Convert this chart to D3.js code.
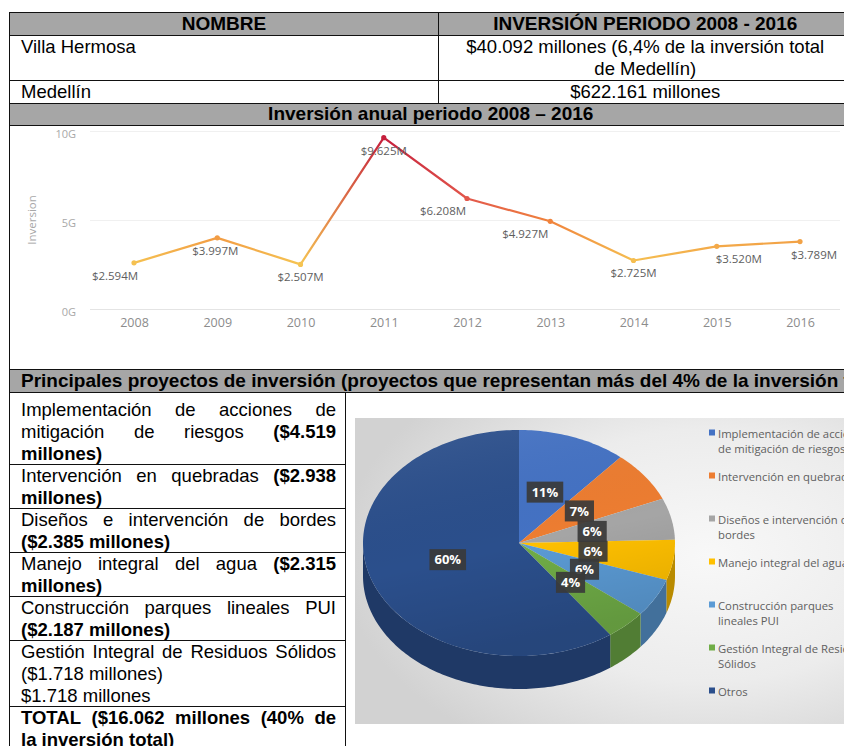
<!DOCTYPE html>
<html lang="es">
<head>
<meta charset="UTF-8">
<title>Inversión Villa Hermosa 2008 - 2016</title>
<style>
  body { margin: 0; background: #fff; }
  svg { display: block; }
</style>
</head>
<body>
<svg width="844" height="746"></svg>
<script src="https://cdn.jsdelivr.net/npm/d3@7"></script>
<script>
// ---------- data ----------
var years = ["2008", "2009", "2010", "2011", "2012", "2013", "2014", "2015", "2016"];
var annualInv = [2594, 3997, 2507, 9625, 6208, 4927, 2725, 3520, 3789]; // millones
var yTicks = [0, 5000, 10000];

var totalVH = 40092;     // Villa Hermosa, millones
var totalMed = 622161;   // Medellín, millones

var projNames = [
  "Implementación de acciones de mitigación de riesgos",
  "Intervención en quebradas",
  "Diseños e intervención de bordes",
  "Manejo integral del agua",
  "Construcción parques lineales PUI",
  "Gestión Integral de Residuos Sólidos"
];
var projValues = [4519, 2938, 2385, 2315, 2187, 1718];
var projBold = [true, true, true, true, true, false];
var projExtra = [null, null, null, null, null, "$1.718 millones"];

var pieValues = [4519, 2938, 2385, 2315, 2187, 1718, 24030];
var pieLabels = ["11%", "7%", "6%", "6%", "6%", "4%", "60%"];
var pieColors = ["#4472c4", "#ed7d31", "#a5a5a5", "#ffc000", "#5b9bd5", "#70ad47", "#2b4f8c"];
var legendLines = [
  ["Implementación de acciones", "de mitigación de riesgos"],
  ["Intervención en quebradas"],
  ["Diseños e intervención de", "bordes"],
  ["Manejo integral del agua"],
  ["Construcción parques", "lineales PUI"],
  ["Gestión Integral de Residuos", "Sólidos"],
  ["Otros"]
];

// label nudges for the line chart (layout only)
var labelDx = [-19, -2, 0, 0, -24, -25, 0, 22, 14];

// ---------- helpers ----------
var svg = d3.select("svg");
var defs = svg.append("defs");
var FONT = "'Liberation Sans', Arial, Helvetica, sans-serif";
var FS = 18.5, LH = 22, HFS = 19;
var es = d3.formatLocale({ decimal: ",", thousands: ".", grouping: [3], currency: ["$", ""] });
var fmtN = es.format(",");
var fmtP1 = es.format(".1%");
var fmtP0 = es.format(".0%");

function txt(x, y, s, o) {
  o = o || {};
  return svg.append("text")
    .attr("x", x).attr("y", y)
    .attr("font-family", o.family || FONT)
    .attr("font-size", o.size || FS)
    .attr("font-weight", o.bold ? "bold" : "normal")
    .attr("text-anchor", o.anchor || "start")
    .attr("fill", o.fill || "#000")
    .text(s);
}
function hline(x1, x2, y) {
  svg.append("line").attr("x1", x1).attr("x2", x2).attr("y1", y).attr("y2", y)
    .attr("stroke", "#111").attr("stroke-width", 1);
}
function vline(x, y1, y2) {
  svg.append("line").attr("x1", x).attr("x2", x).attr("y1", y1).attr("y2", y2)
    .attr("stroke", "#111").attr("stroke-width", 1);
}
function measure(s, bold) {
  var t = txt(0, -100, s, { bold: bold });
  var w = t.node().getComputedTextLength();
  t.remove();
  return w;
}

// ---------- table frame ----------
var XL = 9.5, XR = 852, XM = 438.5, XC = 345.5;
var headBg = "#a6a6a6";
[[12, 35], [103, 125], [369, 392]].forEach(function (r) {
  svg.append("rect").attr("x", XL).attr("y", r[0]).attr("width", XR - XL).attr("height", r[1] - r[0])
    .attr("fill", headBg);
});

[12.5, 35.5, 80.5, 103.5, 125.5, 369.5, 392.5].forEach(function (y) { hline(XL, XR, y); });
vline(XL, 12, 746);
vline(XM, 12, 103.5);
vline(XC, 392, 746);

// header + top rows
txt((XL + XM) / 2, 30, "NOMBRE", { bold: true, anchor: "middle", size: HFS });
txt((XM + XR) / 2, 30, "INVERSIÓN PERIODO 2008 - 2016", { bold: true, anchor: "middle", size: HFS });
txt(21, 53, "Villa Hermosa");
txt((XM + XR) / 2, 53, "$" + fmtN(totalVH) + " millones (" + fmtP1(totalVH / totalMed) + " de la inversión total", { anchor: "middle" });
txt((XM + XR) / 2, 75, "de Medellín)", { anchor: "middle" });
txt(21, 98, "Medellín");
txt((XM + XR) / 2, 98, "$" + fmtN(totalMed) + " millones", { anchor: "middle" });
txt((XL + XR) / 2, 120, "Inversión anual periodo 2008 – 2016", { bold: true, anchor: "middle", size: HFS });
txt(21, 387, "Principales proyectos de inversión (proyectos que representan más del 4% de la inversión total)", { bold: true, size: HFS });

// ---------- justified left column ----------
var JX0 = 21, JX1 = 336, WRAP = 310;
var spaceW = FS * 0.278;

function paragraph(words, extraLine) {
  words.forEach(function (d) { d.w = measure(d.t, d.b); });
  var lines = [], cur = [], curW = 0;
  words.forEach(function (d) {
    var add = cur.length ? spaceW + d.w : d.w;
    if (cur.length && curW + add > WRAP) { lines.push(cur); cur = [d]; curW = d.w; }
    else { cur.push(d); curW += add; }
  });
  if (cur.length) lines.push(cur);
  lines = lines.map(function (l, i) { return { words: l, justify: i < lines.length - 1 }; });
  if (extraLine) lines.push({ words: [{ t: extraLine, b: false }], justify: false });
  return lines;
}

var rows = projNames.map(function (n, i) {
  var words = n.split(" ").map(function (t) { return { t: t, b: false }; });
  ("($" + fmtN(projValues[i]) + " millones)").split(" ").forEach(function (t) {
    words.push({ t: t, b: projBold[i] });
  });
  return paragraph(words, projExtra[i]);
});
var sumProj = d3.sum(projValues);
var totalWords = ("TOTAL ($" + fmtN(sumProj) + " millones (" + fmtP0(sumProj / totalVH) + " de la inversión total)")
  .split(" ").map(function (t) { return { t: t, b: true }; });
rows.push(paragraph(totalWords, null));

var rowTop = 392.5;
rows.forEach(function (lines, ri) {
  var pad = ri === 0 ? 5 : 0;
  lines.forEach(function (ln, li) {
    var y = rowTop + pad + 18 + li * LH;
    var sumW = d3.sum(ln.words, function (d) { return d.w; });
    var gap = ln.justify && ln.words.length > 1 ? (JX1 - JX0 - sumW) / (ln.words.length - 1) : spaceW;
    var x = JX0;
    ln.words.forEach(function (d) {
      txt(x, y, d.t, { bold: d.b });
      x += d.w + gap;
    });
  });
  rowTop += pad + lines.length * LH;
  if (ri < rows.length - 1) hline(XL, XC, Math.round(rowTop) + 0.5);
});

// ---------- line chart ----------
var chart = svg.append("g");
var tabFont = "'Open Sans', 'Noto Sans', sans-serif";
var xS = d3.scalePoint().domain(years).range([134, 800]);
var yS = d3.scaleLinear().domain([0, 10000]).range([309, 131]);
var colorS = d3.scaleLinear().domain([2500, 4900, 6200, 9625])
  .range(["#f5c452", "#f0843c", "#e2574b", "#c51f3c"]);

chart.selectAll(".grid").data(yTicks).enter().append("line")
  .attr("x1", 90).attr("x2", 840)
  .attr("y1", function (d) { return yS(d) + 0.5; }).attr("y2", function (d) { return yS(d) + 0.5; })
  .attr("stroke", function (d) { return d === 0 ? "#e4e4e4" : "#f0f0f0"; });

var yAx = chart.append("g").attr("transform", "translate(76,3)")
  .call(d3.axisLeft(yS).tickValues(yTicks).tickFormat(function (d) { return d / 1000 + "G"; }).tickSize(0).tickPadding(0));
yAx.select(".domain").remove();
yAx.selectAll("text").attr("font-family", tabFont).attr("font-size", 11).attr("fill", "#a8a8a8");

var xAx = chart.append("g").attr("transform", "translate(0,309)")
  .call(d3.axisBottom(xS).tickSize(0).tickPadding(9));
xAx.select(".domain").remove();
xAx.selectAll("text").attr("font-family", tabFont).attr("font-size", 12.5).attr("fill", "#8c8c8c");

chart.append("text")
  .attr("transform", "translate(36,220) rotate(-90)")
  .attr("text-anchor", "middle")
  .attr("font-family", tabFont).attr("font-size", 11.5).attr("fill", "#a8a8a8")
  .text("Inversion");

var pts = annualInv.map(function (v, i) { return { x: xS(years[i]), y: yS(v), v: v, i: i }; });
d3.range(pts.length - 1).forEach(function (i) {
  var a = pts[i], b = pts[i + 1];
  var id = "seg" + i;
  var g = defs.append("linearGradient").attr("id", id).attr("gradientUnits", "userSpaceOnUse")
    .attr("x1", a.x).attr("y1", a.y).attr("x2", b.x).attr("y2", b.y);
  g.append("stop").attr("offset", 0).attr("stop-color", colorS(a.v));
  g.append("stop").attr("offset", 1).attr("stop-color", colorS(b.v));
  chart.append("line").attr("x1", a.x).attr("y1", a.y).attr("x2", b.x).attr("y2", b.y)
    .attr("stroke", "url(#" + id + ")").attr("stroke-width", 2.2).attr("stroke-linecap", "round");
});
chart.selectAll(".pt").data(pts).enter().append("circle")
  .attr("cx", function (d) { return d.x; }).attr("cy", function (d) { return d.y; })
  .attr("r", 2.6).attr("fill", function (d) { return colorS(d.v); });
chart.selectAll(".lbl").data(pts).enter().append("text")
  .attr("x", function (d) { return d.x + labelDx[d.i]; })
  .attr("y", function (d) { return d.y + 17; })
  .attr("text-anchor", "middle")
  .attr("font-family", tabFont).attr("font-size", 11.5).attr("fill", "#5e5e5e")
  .text(function (d) { return "$" + fmtN(d.v) + "M"; });

// ---------- pie image ----------
var bg = defs.append("radialGradient").attr("id", "pieBg")
  .attr("cx", 0.72).attr("cy", 0.45).attr("r", 0.75);
bg.append("stop").attr("offset", 0).attr("stop-color", "#f8f8f8");
bg.append("stop").attr("offset", 0.55).attr("stop-color", "#ececec");
bg.append("stop").attr("offset", 1).attr("stop-color", "#d2d2d2");
svg.append("rect").attr("x", 355).attr("y", 418).attr("width", 489).attr("height", 306)
  .attr("fill", "url(#pieBg)");

var P = { cx: 519, cy: 543, rx: 156, ry: 113, h: 33 };
function pt(a, k) { return [P.cx + P.rx * k * Math.sin(a), P.cy - P.ry * k * Math.cos(a)]; }
var pie = d3.pie().sort(null).value(function (d) { return d; });
var arcs = pie(pieValues);

function topPath(d) {
  var n = Math.max(2, Math.ceil((d.endAngle - d.startAngle) / 0.02));
  var p = d3.path();
  p.moveTo(P.cx, P.cy);
  for (var i = 0; i <= n; i++) {
    var q = pt(d.startAngle + (d.endAngle - d.startAngle) * i / n, 1);
    p.lineTo(q[0], q[1]);
  }
  p.closePath();
  return p.toString();
}
function sidePath(d) {
  var s = Math.max(d.startAngle, Math.PI / 2), e = Math.min(d.endAngle, 3 * Math.PI / 2);
  if (s >= e) return null;
  var n = Math.max(2, Math.ceil((e - s) / 0.02)), p = d3.path(), i, q;
  for (i = 0; i <= n; i++) {
    q = pt(s + (e - s) * i / n, 1);
    if (i === 0) p.moveTo(q[0], q[1]); else p.lineTo(q[0], q[1]);
  }
  for (i = n; i >= 0; i--) {
    q = pt(s + (e - s) * i / n, 1);
    p.lineTo(q[0], q[1] + P.h);
  }
  p.closePath();
  return p.toString();
}

var pieG = svg.append("g");
pieG.selectAll(".side").data(arcs.filter(function (d) { return sidePath(d); })).enter().append("path")
  .attr("d", sidePath)
  .attr("fill", function (d) { return d3.color(pieColors[d.index]).darker(0.9); });
pieG.selectAll(".top").data(arcs).enter().append("path")
  .attr("d", topPath)
  .attr("fill", function (d) { return pieColors[d.index]; });

var shade = defs.append("linearGradient").attr("id", "pieShade").attr("x1", 0).attr("y1", 0).attr("x2", 0.3).attr("y2", 1);
shade.append("stop").attr("offset", 0).attr("stop-color", "#fff").attr("stop-opacity", 0.08);
shade.append("stop").attr("offset", 0.6).attr("stop-color", "#000").attr("stop-opacity", 0);
shade.append("stop").attr("offset", 1).attr("stop-color", "#000").attr("stop-opacity", 0.12);
pieG.append("ellipse").attr("cx", P.cx).attr("cy", P.cy).attr("rx", P.rx).attr("ry", P.ry)
  .attr("fill", "url(#pieShade)");

// data callouts
arcs.forEach(function (d) {
  var m = (d.startAngle + d.endAngle) / 2;
  var q = pt(m, 0.48);
  var g = pieG.append("g").attr("transform", "translate(" + q[0] + "," + q[1] + ")");
  var t = g.append("text").attr("text-anchor", "middle").attr("dy", "0.36em")
    .attr("font-family", tabFont).attr("font-size", 13).attr("font-weight", "bold")
    .attr("fill", "#fff").text(pieLabels[d.index]);
  var w = t.node().getComputedTextLength() + 10;
  g.insert("rect", "text").attr("x", -w / 2).attr("y", -10.5).attr("width", w).attr("height", 21)
    .attr("fill", "#3a3a3a").attr("fill-opacity", 0.92);
});

// legend
var leg = svg.append("g").selectAll("g").data(legendLines).enter().append("g")
  .attr("transform", function (d, i) { return "translate(709," + (433 + 43 * i) + ")"; });
leg.append("rect").attr("x", 0).attr("y", -3.5).attr("width", 6).attr("height", 6)
  .attr("fill", function (d, i) { return pieColors[i]; });
leg.each(function (lines) {
  var g = d3.select(this);
  lines.forEach(function (s, j) {
    g.append("text").attr("x", 9).attr("y", 4.5 + j * 15.5)
      .attr("font-family", tabFont).attr("font-size", 11.3).attr("fill", "#606060").text(s);
  });
});
</script>
</body>
</html>
